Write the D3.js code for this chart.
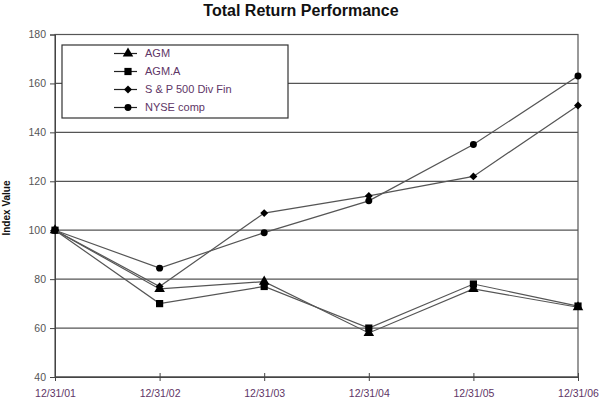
<!DOCTYPE html>
<html>
<head>
<meta charset="utf-8">
<script src="https://cdn.jsdelivr.net/npm/d3@7"></script>
<style>
  body { margin: 0; background: #fff; }
  text { font-family: Arial, "Liberation Sans", sans-serif; }
</style>
</head>
<body>
<div id="chart"></div>
<script>
const dates = ['12/31/01', '12/31/02', '12/31/03', '12/31/04', '12/31/05', '12/31/06'];
const agm = [100, 76, 79, 58, 76, 68.5];
const agmA = [100, 70, 77, 60, 78, 69];
const spDivFin = [100, 77, 107, 114, 122, 151];
const nyseComp = [100, 84.5, 99, 112, 135, 163];
const yTicks = [40, 60, 80, 100, 120, 140, 160, 180];

const series = [
  {name: 'AGM', values: agm, symbol: d3.symbolTriangle, size: 48},
  {name: 'AGM.A', values: agmA, symbol: d3.symbolSquare, size: 52},
  {name: 'S & P 500 Div Fin', values: spDivFin, symbol: d3.symbolDiamond2, size: 40},
  {name: 'NYSE comp', values: nyseComp, symbol: d3.symbolCircle, size: 38}
];

const width = 600;
const height = 399;
const margin = {top: 34.5, right: 22, bottom: 22, left: 55};

const svg = d3.select('#chart').append('svg')
  .attr('width', width)
  .attr('height', height);

const x = d3.scalePoint()
  .domain(dates)
  .range([margin.left, width - margin.right]);

const y = d3.scaleLinear()
  .domain([40, 180])
  .range([height - margin.bottom, margin.top]);

// gridlines
svg.append('g')
  .selectAll('line')
  .data(yTicks)
  .join('line')
  .attr('x1', margin.left)
  .attr('x2', width - margin.right)
  .attr('y1', d => y(d))
  .attr('y2', d => y(d))
  .attr('stroke', '#555')
  .attr('stroke-width', 1.2);

// plot frame
svg.append('rect')
  .attr('x', margin.left)
  .attr('y', margin.top)
  .attr('width', width - margin.right - margin.left)
  .attr('height', height - margin.bottom - margin.top)
  .attr('fill', 'none')
  .attr('stroke', '#555')
  .attr('stroke-width', 1.2);

// y axis
const yAxis = svg.append('g')
  .attr('transform', `translate(${margin.left},0)`)
  .call(d3.axisLeft(y).tickValues(yTicks).tickSize(5).tickPadding(4));
yAxis.select('.domain').attr('stroke', '#444');
yAxis.selectAll('.tick line').attr('stroke', '#444');
yAxis.selectAll('text')
  .attr('fill', '#555')
  .style('font-size', '10.5px');

// x axis (cross ticks)
const xAxis = svg.append('g')
  .attr('transform', `translate(0,${height - margin.bottom})`)
  .call(d3.axisBottom(x).tickSizeInner(4).tickSizeOuter(0).tickPadding(9));
xAxis.select('.domain').attr('stroke', '#444');
xAxis.selectAll('.tick line').attr('y1', -4).attr('stroke', '#444');
xAxis.selectAll('text')
  .attr('fill', '#5e3566')
  .style('font-size', '10.5px');

// lines and markers
const line = d3.line()
  .x((d, i) => x(dates[i]))
  .y(d => y(d));

const gSeries = svg.append('g')
  .selectAll('g')
  .data(series)
  .join('g');

gSeries.append('path')
  .attr('d', d => line(d.values))
  .attr('fill', 'none')
  .attr('stroke', '#555')
  .attr('stroke-width', 1.2);

gSeries.each(function(s) {
  d3.select(this).selectAll('path.marker')
    .data(s.values)
    .join('path')
    .attr('class', 'marker')
    .attr('transform', (d, i) => `translate(${x(dates[i])},${y(d)})`)
    .attr('d', d3.symbol().type(s.symbol).size(s.size))
    .attr('fill', '#000');
});

// title
svg.append('text')
  .attr('x', 301)
  .attr('y', 16)
  .attr('text-anchor', 'middle')
  .style('font-size', '16px')
  .style('font-weight', 'bold')
  .attr('fill', '#111')
  .text('Total Return Performance');

// y axis label
svg.append('text')
  .attr('transform', 'translate(10,208) rotate(-90)')
  .attr('text-anchor', 'middle')
  .style('font-size', '10px')
  .style('font-weight', 'bold')
  .attr('fill', '#111')
  .text('Index Value');

// legend
const legend = svg.append('g');
legend.append('rect')
  .attr('x', 62)
  .attr('y', 45)
  .attr('width', 226)
  .attr('height', 73)
  .attr('fill', '#fff')
  .attr('stroke', '#333')
  .attr('stroke-width', 1.2);

const items = legend.selectAll('g.item')
  .data(series)
  .join('g')
  .attr('class', 'item')
  .attr('transform', (d, i) => `translate(0,${53.5 + i * 18})`);

items.append('line')
  .attr('x1', 114)
  .attr('x2', 137)
  .attr('stroke', '#222')
  .attr('stroke-width', 1.2);

items.append('path')
  .attr('transform', 'translate(128,0)')
  .attr('d', d => d3.symbol().type(d.symbol).size(d.size)())
  .attr('fill', '#000');

items.append('text')
  .attr('x', 145)
  .attr('dy', '0.35em')
  .style('font-size', '11px')
  .attr('fill', '#5e3566')
  .text(d => d.name);
</script>
</body>
</html>
